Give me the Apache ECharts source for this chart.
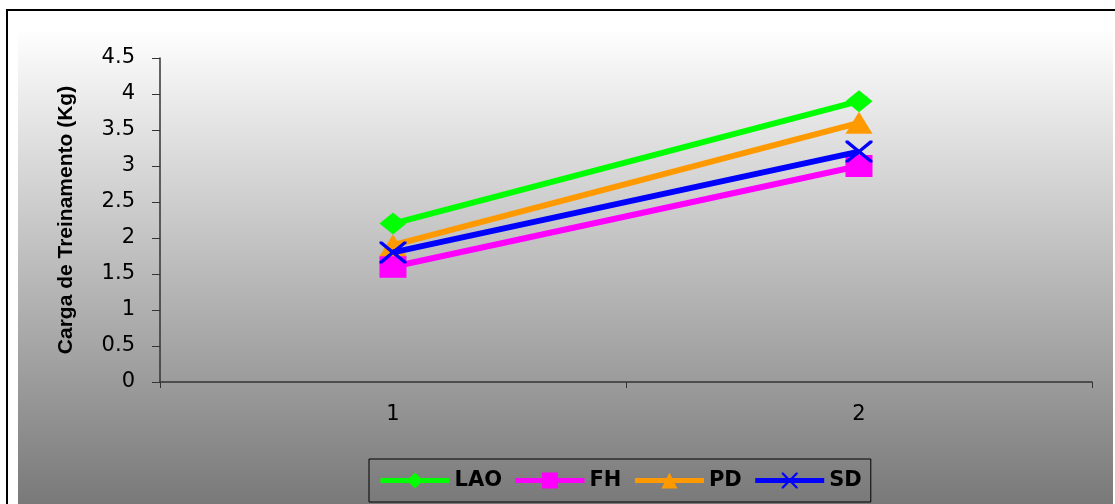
<!DOCTYPE html>
<html>
<head>
<meta charset="utf-8">
<script src="https://cdn.jsdelivr.net/npm/echarts@6/dist/echarts.min.js"></script>
<style>
  html, body { margin: 0; padding: 0; background: #ffffff; }
  #chart { width: 1115px; height: 504px; }
</style>
</head>
<body>
<div id="chart"></div>
<script>
// Training load (kg) per session for each group
const categories = ['1', '2'];
const seriesNames = ['LAO', 'FH', 'PD', 'SD'];
const lao = [2.2, 3.9];
const fh = [1.6, 3.0];
const pd = [1.9, 3.6];
const sd = [1.8, 3.2];
const yTicks = { min: 0, max: 4.5, interval: 0.5 };

const colors = ['#00ff00', '#ff00ff', '#ff9900', '#0000ff'];
const crossPath = 'path://M0,0 L10,0 L50,40 L90,0 L100,0 L100,10 L60,50 L100,90 L100,100 L90,100 L50,60 L10,100 L0,100 L0,90 L40,50 L0,10 Z';
const symbols = ['diamond', 'rect', 'triangle', crossPath];
const values = [lao, fh, pd, sd];

const chart = echarts.init(document.getElementById('chart'), null, { renderer: 'canvas' });

const wideFont = 'DejaVu Sans, Verdana, sans-serif';
const titleFont = 'Liberation Sans, Arial, sans-serif';

chart.setOption({
  animation: false,
  backgroundColor: '#ffffff',
  graphic: [
    {
      type: 'rect', z: -10, silent: true,
      shape: { x: 18, y: 28, width: 1095, height: 490 },
      style: {
        fill: new echarts.graphic.LinearGradient(0, 0, 0, 1, [
          { offset: 0, color: '#ffffff' },
          { offset: 1, color: '#757575' }
        ])
      }
    },
    {
      type: 'rect', z: -9, silent: true,
      shape: { x: 7, y: 10, width: 1130, height: 520 },
      style: { fill: 'none', stroke: '#000000', lineWidth: 2 }
    }
  ],
  grid: { left: 160, top: 58, right: 23, bottom: 122, containLabel: false },
  legend: {
    left: 369, top: 459,
    itemWidth: 69, itemHeight: 20, itemGap: 11,
    padding: [11, 9, 11, 9],
    borderColor: '#000000', borderWidth: 1,
    lineStyle: { width: 5 },
    textStyle: { fontFamily: wideFont, fontSize: 21, fontWeight: 'bold', color: '#000000' },
    data: seriesNames
  },
  xAxis: {
    type: 'category',
    data: categories,
    boundaryGap: true,
    axisLine: { lineStyle: { color: '#333333', width: 1.5 } },
    axisTick: { show: true, length: 6, lineStyle: { color: '#333333' } },
    axisLabel: { fontFamily: wideFont, fontSize: 21, color: '#000000', margin: 22 }
  },
  yAxis: {
    type: 'value',
    min: yTicks.min, max: yTicks.max, interval: yTicks.interval,
    name: 'Carga de Treinamento (Kg)',
    nameLocation: 'middle',
    nameRotate: 90,
    nameGap: 83,
    nameTextStyle: { fontFamily: titleFont, fontSize: 21, fontWeight: 'bold', color: '#000000' },
    axisLine: { show: true, lineStyle: { color: '#333333', width: 1.5 } },
    axisTick: { show: true, length: 8, lineStyle: { color: '#333333' } },
    axisLabel: { fontFamily: wideFont, fontSize: 21, color: '#000000', margin: 25 },
    splitLine: { show: false }
  },
  series: seriesNames.map((name, i) => ({
    name: name,
    type: 'line',
    data: values[i],
    symbol: symbols[i],
    symbolSize: [27, 22],
    showAllSymbol: true,
    lineStyle: { color: colors[i], width: 6 },
    itemStyle: { color: colors[i], borderWidth: 0 },
    z: 2 + i
  }))
});
</script>
</body>
</html>
